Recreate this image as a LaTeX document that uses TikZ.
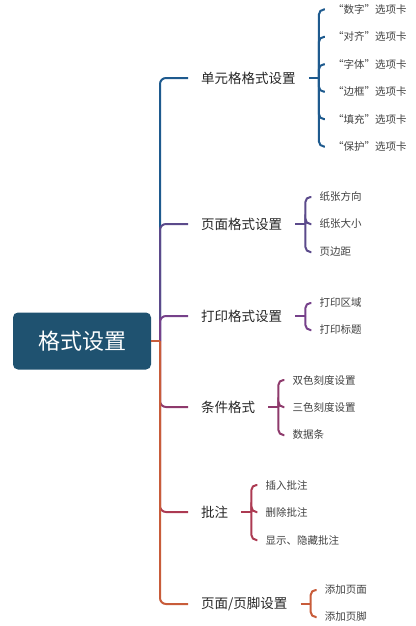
\documentclass[tikz,border=0pt]{standalone}
\usepackage{fontspec}
\setmainfont{Noto Sans CJK SC}
\usepackage{tikz}
\usetikzlibrary{positioning,calc}
\definecolor{fmtRoot}{RGB}{31,82,112}
\definecolor{fmtBlue}{RGB}{30,90,142}
\definecolor{fmtPurple}{RGB}{91,74,139}
\definecolor{fmtViolet}{RGB}{118,65,138}
\definecolor{fmtPlum}{RGB}{142,58,108}
\definecolor{fmtRose}{RGB}{172,58,82}
\definecolor{fmtRust}{RGB}{200,92,58}

\begin{document}
\begin{tikzpicture}[x=1pt, y=-1pt,
  rootbox/.style={fill=fmtRoot, rounded corners=5pt, text=white, minimum width=138pt, minimum height=57pt, inner sep=0pt, font=\fontsize{22}{26}\selectfont},
  topic/.style={anchor=west, inner xsep=13pt, inner ysep=2pt, text=black!85, font=\fontsize{13.5}{16}\selectfont},
  leaf/.style={anchor=west, xshift=6pt, inner xsep=8pt, inner ysep=1pt, text=black!75, font=\fontsize{10.5}{12}\selectfont},
  link/.style={line width=2pt, rounded corners=6pt},
  tick/.style={line width=2pt, rounded corners=5pt}]
  \useasboundingbox (0,0) rectangle (415,626);
  \node[rootbox] (root) at (82,341) {格式设置};
  \coordinate (spine) at (160,341);

  \node[topic] (cell)  at (188,78)  {单元格格式设置};
  \node[topic] (page)  at (188,224) {页面格式设置};
  \node[topic] (print) at (188,316) {打印格式设置};
  \node[topic] (cond)  at (188,407) {条件格式};
  \node[topic] (note)  at (188,512) {批注};
  \node[topic] (foot)  at (188,604) {页面/页脚设置};

  \coordinate (cellb)  at ([xshift=10pt]cell.east);
  \coordinate (pageb)  at ([xshift=10pt]page.east);
  \coordinate (printb) at ([xshift=10pt]print.east);
  \coordinate (condb)  at ([xshift=10pt]cond.east);
  \coordinate (noteb)  at ([xshift=10pt]note.east);
  \coordinate (footb)  at ([xshift=10pt]foot.east);

  \node[leaf] (c1) at (cellb |- 0,9.5)   {“数字”选项卡};
  \node[leaf] (c2) at (cellb |- 0,36.9)  {“对齐”选项卡};
  \node[leaf] (c3) at (cellb |- 0,64.3)  {“字体”选项卡};
  \node[leaf] (c4) at (cellb |- 0,91.7)  {“边框”选项卡};
  \node[leaf] (c5) at (cellb |- 0,119.1) {“填充”选项卡};
  \node[leaf] (c6) at (cellb |- 0,146.5) {“保护”选项卡};

  \node[leaf] (p1) at (pageb |- 0,197) {纸张方向};
  \node[leaf] (p2) at (pageb |- page.west) {纸张大小};
  \node[leaf] (p3) at (pageb |- 0,252) {页边距};

  \node[leaf] (r1) at (printb |- 0,303) {打印区域};
  \node[leaf] (r2) at (printb |- 0,330) {打印标题};

  \node[leaf] (d1) at (condb |- 0,380) {双色刻度设置};
  \node[leaf] (d2) at (condb |- cond.west) {三色刻度设置};
  \node[leaf] (d3) at (condb |- 0,435) {数据条};

  \node[leaf] (n1) at (noteb |- 0,485) {插入批注};
  \node[leaf] (n2) at (noteb |- note.west) {删除批注};
  \node[leaf] (n3) at (noteb |- 0,540) {显示、隐藏批注};

  \node[leaf] (f1) at (footb |- 0,590) {添加页面};
  \node[leaf] (f2) at (footb |- 0,617) {添加页脚};

  \draw[link, fmtBlue]   (spine) |- (cell.west);
  \draw[link, fmtPurple] (spine) |- (page.west);
  \draw[link, fmtViolet] (spine) |- (print.west);
  \draw[link, fmtPlum]   (spine) |- (cond.west);
  \draw[link, fmtRose]   (spine) |- (note.west);
  \draw[link, fmtRust]   (spine) |- (foot.west);
  \draw[line width=2pt, fmtRust] (root.east) -- (spine);

  \draw[tick, fmtBlue] (cell.east) -- (cellb);
  \foreach \leafnode in {c1,c2,c3,c4,c5,c6}
    \draw[tick, fmtBlue] (cellb) |- (\leafnode.west);
  \draw[tick, fmtPurple] (page.east) -- (pageb);
  \foreach \leafnode in {p1,p2,p3}
    \draw[tick, fmtPurple] (pageb) |- (\leafnode.west);
  \draw[tick, fmtViolet] (print.east) -- (printb);
  \foreach \leafnode in {r1,r2}
    \draw[tick, fmtViolet] (printb) |- (\leafnode.west);
  \draw[tick, fmtPlum] (cond.east) -- (condb);
  \foreach \leafnode in {d1,d2,d3}
    \draw[tick, fmtPlum] (condb) |- (\leafnode.west);
  \draw[tick, fmtRose] (note.east) -- (noteb);
  \foreach \leafnode in {n1,n2,n3}
    \draw[tick, fmtRose] (noteb) |- (\leafnode.west);
  \draw[tick, fmtRust] (foot.east) -- (footb);
  \foreach \leafnode in {f1,f2}
    \draw[tick, fmtRust] (footb) |- (\leafnode.west);
\end{tikzpicture}
\end{document}
